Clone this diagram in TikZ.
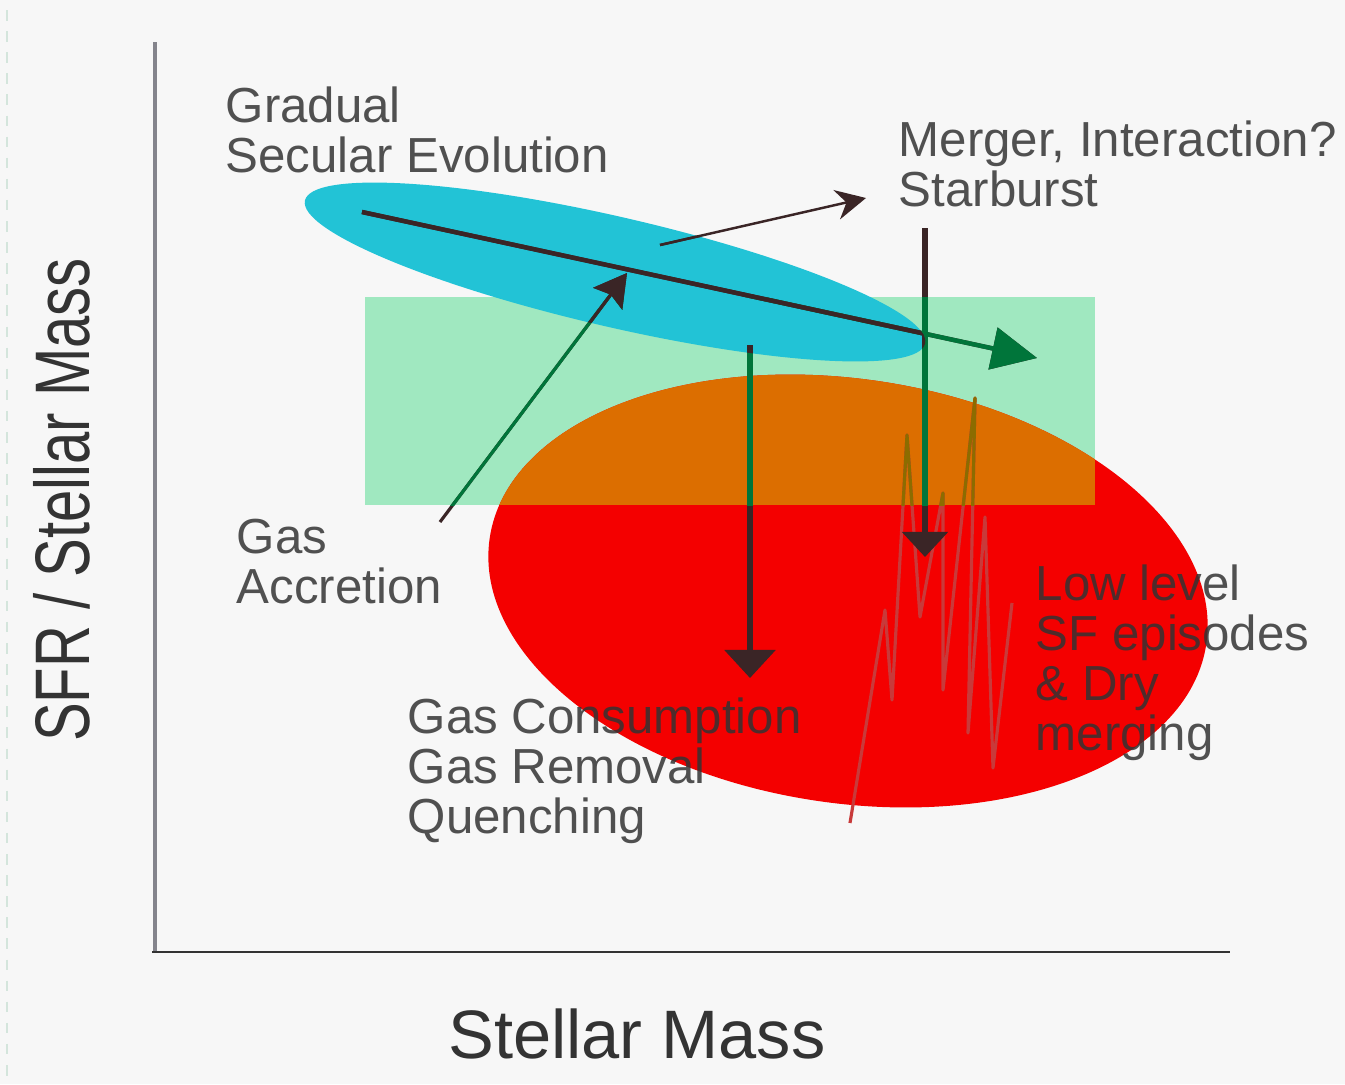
\documentclass[tikz,border=0pt]{standalone}
\usepackage{fontspec}
\usepackage{graphicx}
\setmainfont{Liberation Sans}
\usetikzlibrary{arrows.meta}
\definecolor{bggray}{HTML}{F7F7F7}
\definecolor{mint}{HTML}{A0E8C0}
\definecolor{cyanfill}{HTML}{22C3D6}
\definecolor{redfill}{HTML}{F40000}
\definecolor{orangefill}{HTML}{DC6E00}
\definecolor{darkflow}{HTML}{3A2526}
\definecolor{greenflow}{HTML}{00753A}
\definecolor{streakred}{HTML}{C83A3A}
\definecolor{streakolive}{HTML}{8C6C00}
\definecolor{inkgray}{HTML}{333333}
\definecolor{axisgray}{HTML}{84848C}

% all flow arrows, drawn in one colour
\newcommand{\flowarrows}[1]{%
  \draw[#1, line width=1.25pt, -{Triangle[length=0.45cm,width=0.42cm]}] (secA) -- (secB);
  \draw[#1, line width=0.7pt, -{Stealth[length=0.3cm,width=0.3cm,inset=0.1cm]}] (mrgA) -- (mrgB);
  \draw[#1, line width=0.9pt, -{Stealth[length=0.32cm,width=0.36cm,inset=0.05cm]}] (accA) -- (accB);
  \draw[#1, line width=1.7pt, -{Triangle[length=0.28cm,width=0.5cm]}] (conA) -- (conB);
  \draw[#1, line width=1.5pt, -{Triangle[length=0.25cm,width=0.45cm]}] (sbA) -- (sbB);
}
\newcommand{\streaks}[1]{%
  \draw[#1, line width=0.9pt, line join=round]
    (850,823) -- (885,610) -- (892,700) -- (907,435) -- (920,617) -- (943,493)
    -- (943,690) -- (975,398) -- (968,733) -- (985,517) -- (993,768) -- (1012,603);
}

\begin{document}
\begin{tikzpicture}[x=0.01cm, y=-0.01cm,
  lbl/.style={anchor=base west, inner sep=0pt, align=left, text=inkgray, text opacity=0.85,
    font=\fontsize{14}{14.2}\selectfont}]
\fill[bggray] (0,0) rectangle (1345,1084);
\useasboundingbox (0,0) rectangle (1345,1084);
\draw[mint!60!gray!40, dashed, line width=0.4pt] (7,10) -- (7,1084);

% axes
\draw[axisgray, line width=0.9pt] (155,42) -- (155,953);
\draw[inkgray, line width=0.5pt] (152,952) -- (1230,952);

% regions
\fill[mint] (365,297) rectangle (1095,505);
\fill[redfill, rotate around={-8.4:(848,591)}] (848,591) ellipse [x radius=3.62cm, y radius=2.12cm];
\begin{scope}
  \clip[rotate around={-8.4:(848,591)}] (848,591) ellipse [x radius=3.62cm, y radius=2.12cm];
  \fill[orangefill] (365,297) rectangle (1095,505);
\end{scope}

% SF episodes
\streaks{streakred}
\begin{scope}
  \clip (365,297) rectangle (1095,505);
  \streaks{streakolive}
\end{scope}

\fill[cyanfill, rotate around={-13:(615,272)}] (615,272) ellipse [x radius=3.18cm, y radius=0.55cm];

% arrows
\coordinate (secA) at (362,212);
\coordinate (secB) at (1037,358);
\coordinate (mrgA) at (660,245);
\coordinate (mrgB) at (866,198);
\coordinate (accA) at (440,522);
\coordinate (accB) at (627,273);
\coordinate (conA) at (750,345);
\coordinate (conB) at (750,678);
\coordinate (sbA) at (925,228);
\coordinate (sbB) at (925,557);
\flowarrows{darkflow}
\begin{scope}
  \clip (365,297) rectangle (1095,505);
  \flowarrows{greenflow}
\end{scope}
\begin{scope}
  \clip[rotate around={-13:(615,272)}] (615,272) ellipse [x radius=3.18cm, y radius=0.55cm];
  \flowarrows{darkflow}
\end{scope}

% labels (base = last line)
\node[lbl] (secular) at (225,172) {Gradual\\Secular Evolution};
\node[lbl] (merger) at (898,206) {Merger, Interaction?\\Starburst};
\node[lbl] (accretion) at (236,603) {Gas\\Accretion};
\node[lbl] (quench) at (407,833) {Gas Consumption\\Gas Removal\\Quenching};
\node[lbl] (lowsf) at (1035,750) {Low level\\SF episodes\\\& Dry\\merging};
\node[anchor=base, inner sep=0pt, text=inkgray, font=\fontsize{19.5}{20}\selectfont] (xlabel) at (637,1058) {Stellar Mass};
\node[anchor=base, inner sep=0pt, rotate=90, text=inkgray, font=\fontsize{22}{22}\selectfont] (ylabel) at (90,500) {\scalebox{0.75}[1]{SFR / Stellar Mass}};
\end{tikzpicture}
\end{document}
